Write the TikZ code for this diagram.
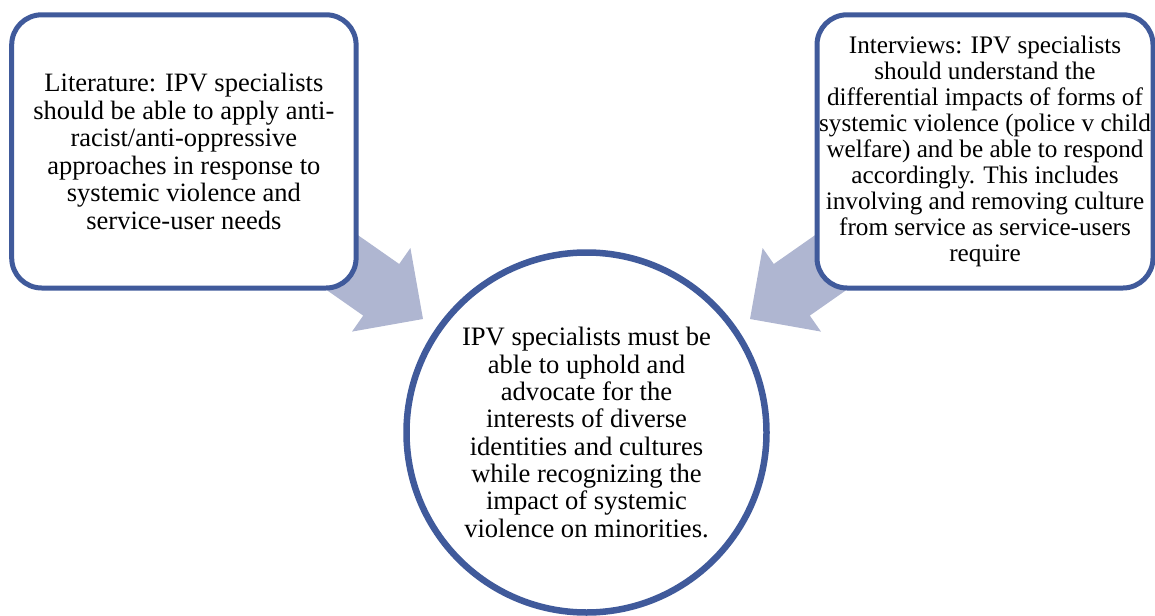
\documentclass[tikz,border=0pt]{standalone}
\usepackage{fontspec}
\setmainfont{Liberation Serif}
\definecolor{frameblue}{RGB}{64,90,155}
\definecolor{arrowfill}{RGB}{175,182,209}
\begin{document}
\begin{tikzpicture}[x=0.5pt,y=-0.5pt,
  sourcebox/.style={draw=frameblue, line width=2.5pt, fill=white,
    rounded corners=15pt, minimum width=168pt, minimum height=136.6pt,
    align=center, inner sep=0pt},
  goalcircle/.style={circle, draw=frameblue, line width=3.25pt, fill=white,
    minimum size=180pt, inner sep=0pt, align=center,
    font=\fontsize{13.3}{13.65}\selectfont},
  blockarrow/.style={fill=arrowfill, draw=none}]
\useasboundingbox (0,0) rectangle (1155,615);

% arrow tips
\coordinate (litTip) at (423,319);
\coordinate (intTip) at (750,319);

% block arrows, drawn first so the boxes cover their tails
\fill[blockarrow] (318,207.2) -- (399.2,264) -- (410.4,248) -- (litTip)
  -- (352,331.6) -- (363.2,315.6) -- (282,258.8) -- cycle;
\fill[blockarrow] (855,207.2) -- (773.8,264) -- (762.6,248) -- (intTip)
  -- (821,331.6) -- (809.8,315.6) -- (891,258.8) -- cycle;

% source boxes
\node[sourcebox, minimum width=172.2pt, font=\fontsize{13.25}{13.8}\selectfont]
  (lit) at (183.9,151.4)
  {Literature: IPV specialists\\ should be able to apply anti-\\
   racist/anti-oppressive\\ approaches in response to\\
   systemic violence and\\ service-user needs};

\node[sourcebox, font=\fontsize{12.6}{13}\selectfont]
  (int) at (985,151.4)
  {Interviews: IPV specialists\\ should understand the\\
   differential impacts of forms of\\ systemic violence (police v child\\
   welfare) and be able to respond\\ accordingly. This includes\\
   involving and removing culture\\ from service as service-users\\ require};

% central outcome
\node[goalcircle] (goal) at (586.5,432.5)
  {IPV specialists must be\\ able to uphold and\\ advocate for the\\
   interests of diverse\\ identities and cultures\\ while recognizing the\\
   impact of systemic\\ violence on minorities.};
\end{tikzpicture}
\end{document}
